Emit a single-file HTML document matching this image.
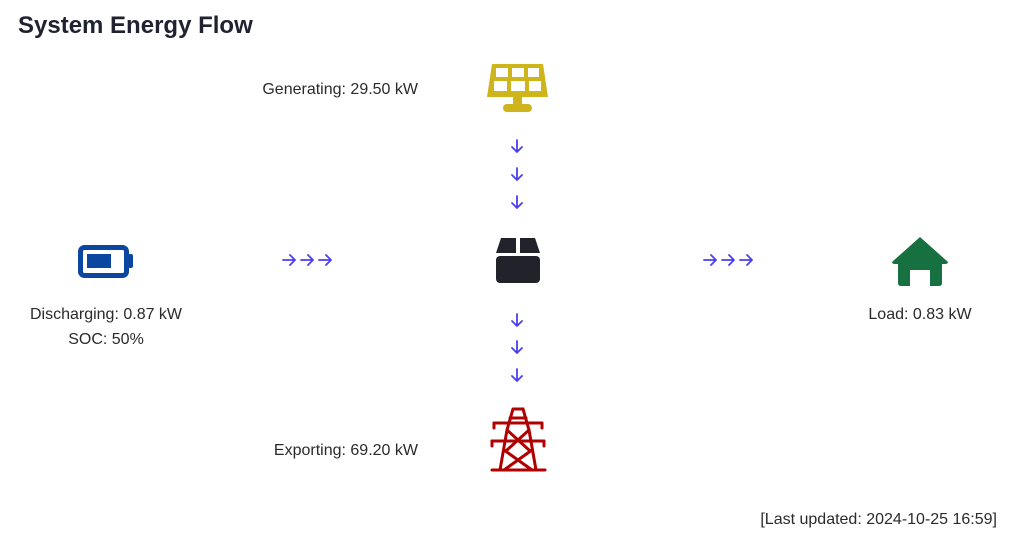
<!DOCTYPE html>
<html><head><style>
html,body{margin:0;padding:0;background:#fff;width:1024px;height:538px;overflow:hidden}
svg{display:block}
text{font-family:"Liberation Sans",sans-serif}
</style></head><body>
<svg width="1024" height="538" viewBox="0 0 1024 538">
<defs>
<g id="ad"><path d="M0 -6 V6 M-5 1 L0 6 L5 1" fill="none" stroke="#4a3ff0" stroke-width="1.8" stroke-linecap="round" stroke-linejoin="round"/></g>
<g id="ar"><path d="M-6 0 H6 M1 -5 L6 0 L1 5" fill="none" stroke="#4a3ff0" stroke-width="1.8" stroke-linecap="round" stroke-linejoin="round"/></g>
</defs>
<text x="18" y="33" font-size="24" font-weight="bold" fill="#1f2230">System Energy Flow</text>

<g font-size="16" fill="#2a2a2a">
<text x="418" y="94" text-anchor="end">Generating: 29.50 kW</text>
<text x="418" y="455" text-anchor="end">Exporting: 69.20 kW</text>
<text x="106" y="319" text-anchor="middle">Discharging: 0.87 kW</text>
<text x="106" y="344" text-anchor="middle">SOC: 50%</text>
<text x="920" y="319" text-anchor="middle">Load: 0.83 kW</text>
<text x="997" y="524" text-anchor="end">[Last updated: 2024-10-25 16:59]</text>
</g>

<!-- solar -->
<g fill="#cfb51c">
<path d="M492 64 H543 L548 97 H487 Z"/>
<rect x="513" y="97" width="9" height="8"/>
<rect x="503" y="104" width="29" height="8" rx="4"/>
</g>
<g fill="#fff">
<rect x="496" y="68" width="12" height="9"/><rect x="512" y="68" width="12" height="9"/><rect x="528" y="68" width="11" height="9"/>
<rect x="494" y="81" width="13" height="10"/><rect x="511" y="81" width="14" height="10"/><rect x="529" y="81" width="12" height="10"/>
</g>

<!-- box -->
<g fill="#22232a">
<path d="M501 238 H516 V253 H496 Z"/>
<path d="M520 238 H535 L540 253 H520 Z"/>
<rect x="496" y="256" width="44" height="27" rx="4"/>
</g>

<!-- battery -->
<rect x="80.5" y="247.5" width="46" height="28" rx="4" fill="none" stroke="#0b46a0" stroke-width="5"/>
<rect x="126" y="254" width="7" height="14" rx="2" fill="#0b46a0"/>
<rect x="87" y="254" width="24" height="14" fill="#0b46a0"/>

<!-- house -->
<path d="M920 237 L948 262 Q948 264 945 264 H942 V283 Q942 286 939 286 H930 V270 H910 V286 H901 Q898 286 898 283 V264 H895 Q892 264 892 262 Z" fill="#17703f"/>

<!-- tower -->
<g stroke="#b00000" stroke-width="3" fill="none" stroke-linecap="round">
<path d="M513 409 H523 L529 430 L536 470 M513 409 L507 430 L500 470"/>
<path d="M492 470 H545"/>
<path d="M494 423 H542 M492 441 H544"/>
<path d="M507 430 L529 450 M529 430 L507 450 M504 450 L532 470 M532 450 L504 470 M510 418 L526 418"/>
<path d="M494 423 V428 M542 423 V428 M492 441 V446 M544 441 V446"/>
</g>

<!-- arrows -->
<use href="#ad" x="517" y="146"/><use href="#ad" x="517" y="174"/><use href="#ad" x="517" y="202"/>
<use href="#ad" x="517" y="320"/><use href="#ad" x="517" y="347"/><use href="#ad" x="517" y="375"/>
<use href="#ar" x="289" y="260"/><use href="#ar" x="307" y="260"/><use href="#ar" x="325" y="260"/>
<use href="#ar" x="710" y="260"/><use href="#ar" x="728" y="260"/><use href="#ar" x="746" y="260"/>
</svg>
</body></html>
